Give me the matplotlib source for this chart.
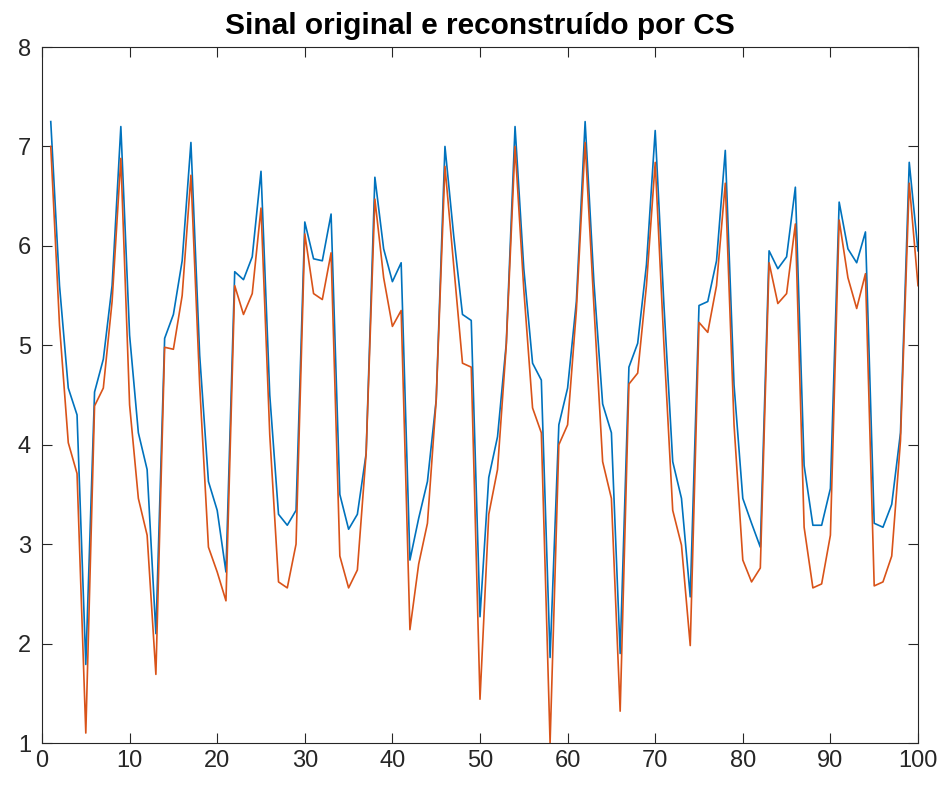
import matplotlib
matplotlib.use("Agg")
import matplotlib.pyplot as plt
import numpy as np

plt.rcParams['font.family'] = ['Liberation Sans', 'DejaVu Sans']

x = list(range(1, 101))

original = [7.25, 5.6, 4.57, 4.30, 1.79, 4.53, 4.86, 5.6, 7.2, 5.1,
            4.12, 3.75, 2.1, 5.07, 5.31, 5.85, 7.04, 4.9, 3.63, 3.34,
            2.72, 5.74, 5.66, 5.89, 6.75, 4.5, 3.3, 3.19, 3.34, 6.24,
            5.87, 5.85, 6.32, 3.5, 3.15, 3.3, 3.91, 6.69, 5.97, 5.64,
            5.83, 2.84, 3.26, 3.63, 4.45, 7.0, 6.1, 5.31, 5.25, 2.27,
            3.67, 4.08, 5.02, 7.2, 5.77, 4.82, 4.65, 1.86, 4.2, 4.57,
            5.44, 7.25, 5.64, 4.41, 4.12, 1.9, 4.78, 5.02, 5.81, 7.16,
            5.4, 3.83, 3.46, 2.47, 5.4, 5.44, 5.85, 6.96, 4.6, 3.46,
            3.21, 2.97, 5.95, 5.77, 5.89, 6.59, 3.79, 3.19, 3.19, 3.56,
            6.44, 5.97, 5.83, 6.14, 3.21, 3.17, 3.4, 4.12, 6.84, 5.95]

reconstructed = [7.0, 5.2, 4.02, 3.71, 1.1, 4.39, 4.57, 5.44, 6.88, 4.4,
                 3.46, 3.09, 1.69, 4.98, 4.96, 5.5, 6.71, 4.6, 2.97, 2.72,
                 2.43, 5.6, 5.31, 5.52, 6.38, 4.1, 2.62, 2.56, 3.0, 6.12,
                 5.52, 5.46, 5.93, 2.88, 2.56, 2.74, 3.91, 6.47, 5.68, 5.19,
                 5.35, 2.14, 2.8, 3.21, 4.45, 6.8, 5.8, 4.82, 4.78, 1.44,
                 3.3, 3.75, 5.0, 7.0, 5.56, 4.37, 4.12, 1.0, 4.0, 4.2,
                 5.35, 7.04, 5.4, 3.83, 3.46, 1.32, 4.61, 4.72, 5.6, 6.84,
                 5.0, 3.34, 2.99, 1.98, 5.23, 5.13, 5.6, 6.63, 4.2, 2.84,
                 2.62, 2.76, 5.83, 5.42, 5.52, 6.22, 3.17, 2.56, 2.6, 3.09,
                 6.26, 5.68, 5.37, 5.72, 2.58, 2.62, 2.88, 4.04, 6.63, 5.6]

title = "Sinal original e reconstruído por CS"
xticks = [0, 10, 20, 30, 40, 50, 60, 70, 80, 90, 100]
yticks = [1, 2, 3, 4, 5, 6, 7, 8]

fig = plt.figure(figsize=(9.45, 7.88), dpi=100)
ax = fig.add_axes([42/945, 1 - 743/788, (918 - 42)/945, (743 - 47)/788])

ax.plot(x, original, color='#0072BD', lw=1.2)
ax.plot(x, reconstructed, color='#D95319', lw=1.2)

ax.set_xlim(0, 100)
ax.set_ylim(1, 8)
ax.set_xticks(xticks)
ax.set_yticks(yticks)
ax.tick_params(direction='in', top=True, right=True, length=7, width=0.8,
               labelsize=17, colors='#262626')
ax.tick_params(axis='x', pad=5)
ax.tick_params(axis='y', pad=8)
for s in ax.spines.values():
    s.set_color('#262626')
    s.set_linewidth(0.8)
ax.set_title(title, fontsize=21.5, fontweight='bold', pad=9)

fig.savefig('out.png', dpi=100)
